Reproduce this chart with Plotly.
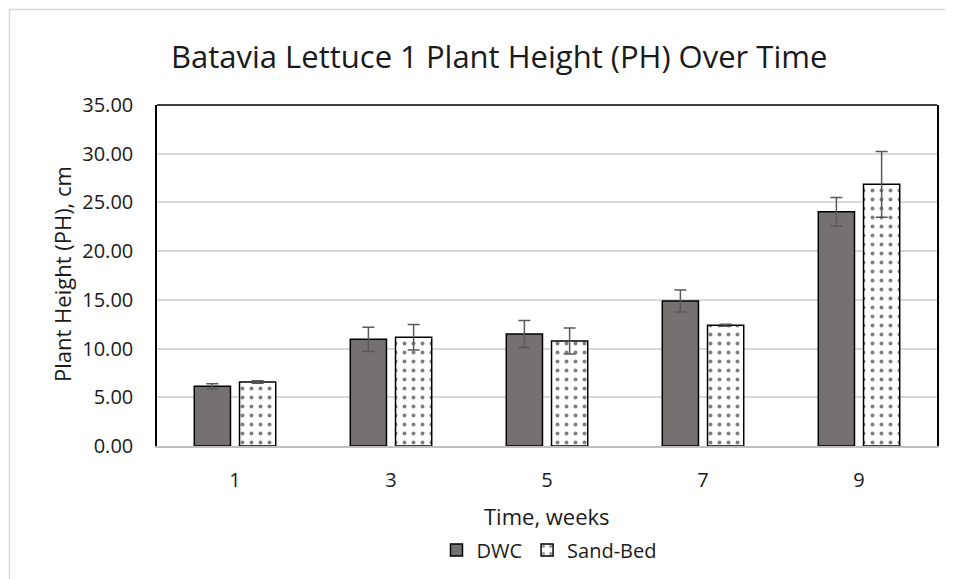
import plotly.graph_objects as go

weeks = ["1", "3", "5", "7", "9"]
dwc = [6.13, 10.95, 11.50, 14.88, 24.04]
dwc_err = [0.25, 1.24, 1.38, 1.13, 1.47]
sand = [6.58, 11.16, 10.78, 12.40, 26.86]
sand_err = [0.13, 1.31, 1.34, 0.10, 3.38]
y_ticks = [0, 5, 10, 15, 20, 25, 30, 35]

FONT = "Open Sans"
OFF = 8  # page body margin
W, H = 954, 579
# plot area in screen pixels: x 157..937, y 105..446
L, T = 157 - OFF, 105 - OFF
R = W - (937 - OFF)
B = H - (446 - OFF)
pw, ph = W - L - R, H - T - B


def px(x):
    return (x - OFF - L) / pw


def py(y):
    return (H - B - (y - OFF)) / ph


fig = go.Figure()
fig.add_trace(go.Bar(
    name="DWC", x=weeks, y=dwc,
    marker=dict(color="#767171", line=dict(color="#000000", width=1.5)),
    error_y=dict(type="data", array=dwc_err, color="#595959", thickness=1.5, width=6),
))
fig.add_trace(go.Bar(
    name="Sand-Bed", x=weeks, y=sand,
    marker=dict(color="#ffffff", line=dict(color="#000000", width=1.5),
                pattern=dict(shape=".", fgcolor="#000000", bgcolor="#ffffff",
                             size=9, solidity=0.15, fillmode="overlay")),
    error_y=dict(type="data", array=sand_err, color="#595959", thickness=1.5, width=6),
))

fig.update_layout(
    width=W, height=H,
    margin=dict(l=L, r=R, t=T, b=B),
    paper_bgcolor="#ffffff", plot_bgcolor="#ffffff",
    barmode="group", bargap=0.42, bargroupgap=0.2,
    font=dict(family=FONT, color="#1a1a1a", size=20),
    showlegend=True,
    legend=dict(orientation="h", x=px(549), xanchor="center", y=py(550), yanchor="middle",
                font=dict(size=20, color="#1a1a1a"), itemwidth=30,
                traceorder="normal", bgcolor="rgba(0,0,0,0)"),
    xaxis=dict(showline=True, linecolor="#bfbfbf", linewidth=1.5, ticks="",
               tickfont=dict(size=20), showgrid=False, ticklabelstandoff=15,
               automargin=False),
    yaxis=dict(range=[0, 35], tickvals=y_ticks,
               ticktext=[f"{v:.2f}" for v in y_ticks],
               showgrid=True, gridcolor="#d9d9d9", gridwidth=1.5,
               showline=True, linecolor="#000000", linewidth=1.5, mirror=True,
               zeroline=False, ticks="", ticklabelstandoff=18, tickfont=dict(size=20),
               automargin=False),
    shapes=[
        dict(type="line", xref="paper", yref="paper", x0=0, x1=1, y0=1, y1=1,
             line=dict(color="#000000", width=1.5)),
        dict(type="rect", xref="paper", yref="paper", x0=px(9.5), x1=px(1100),
             y0=py(800), y1=py(9.5), line=dict(color="#d9d9d9", width=1.5)),
    ],
    annotations=[
        dict(text="Batavia Lettuce 1 Plant Height (PH) Over Time", xref="paper", yref="paper",
             x=px(499), y=py(56), xanchor="center", yanchor="middle", showarrow=False,
             font=dict(size=31, color="#1a1a1a")),
        dict(text="Time, weeks", xref="paper", yref="paper",
             x=px(547), y=py(516), xanchor="center", yanchor="middle", showarrow=False,
             font=dict(size=22, color="#1a1a1a")),
        dict(text="Plant Height (PH), cm", xref="paper", yref="paper",
             x=px(62), y=py(274), xanchor="center", yanchor="middle", showarrow=False,
             textangle=-90, font=dict(size=22, color="#1a1a1a")),
    ],
)

fig.write_html("out.html")
